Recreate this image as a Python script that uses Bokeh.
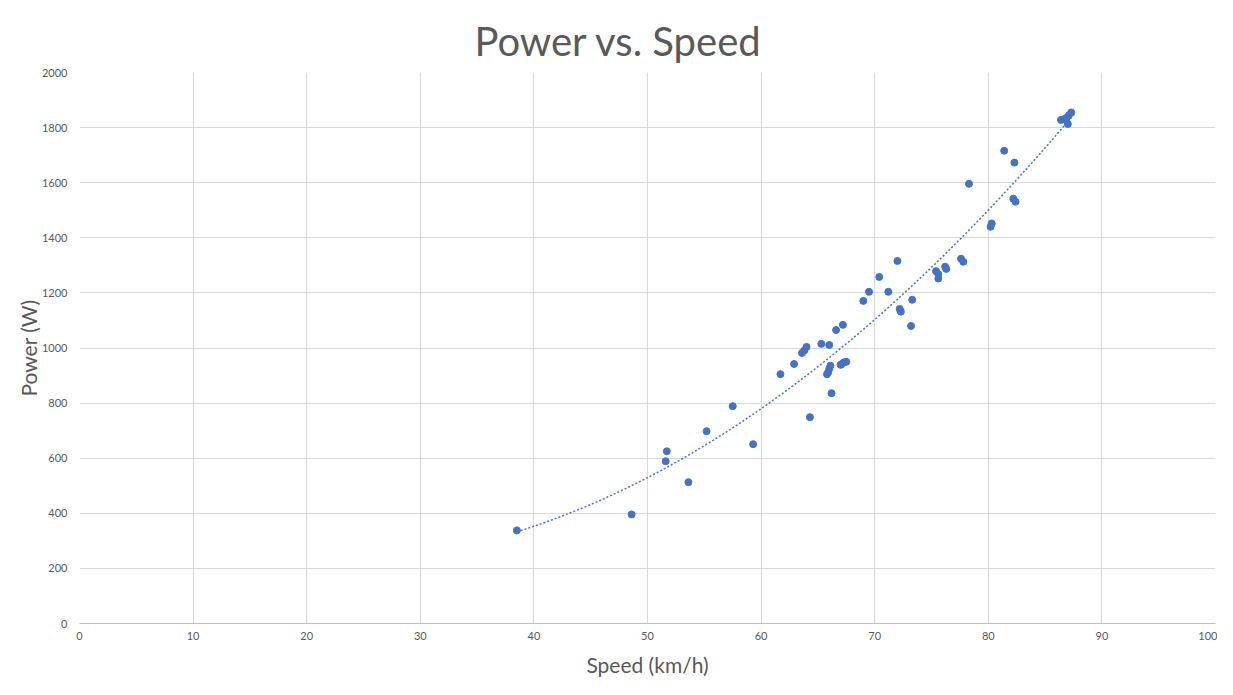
import numpy as np
from bokeh.plotting import figure
from bokeh.models import ColumnDataSource, FixedTicker
from bokeh.embed import file_html
from bokeh.resources import INLINE

# --- data ---
speed_kmh = [38.5, 48.6, 51.7, 51.6, 53.6, 55.2, 57.5, 59.3, 61.7, 62.9,
             63.6, 63.8, 64.0, 64.3, 65.3, 66.0, 66.2, 65.8, 65.9, 66.0,
             66.1, 66.6, 67.2, 67.0, 67.1, 67.3, 67.5, 69.0, 69.5, 70.4,
             71.2, 72.0, 72.2, 72.3, 73.3, 73.2, 75.4, 75.6, 75.6, 76.2,
             76.3, 77.6, 77.8, 78.3, 80.3, 80.2, 81.4, 82.3, 82.2, 82.4,
             86.4, 86.6, 86.9, 87.1, 87.3, 87.0]
power_w = [338, 396, 625, 589, 513, 698, 789, 651, 905, 942,
           982, 991, 1004, 749, 1015, 1011, 836, 905, 911, 924,
           936, 1065, 1084, 939, 942, 948, 950, 1171, 1204, 1258,
           1204, 1316, 1142, 1132, 1175, 1080, 1279, 1268, 1252, 1295,
           1287, 1324, 1313, 1596, 1452, 1440, 1716, 1673, 1542, 1531,
           1828, 1830, 1836, 1845, 1855, 1813]
x_ticks = [0, 10, 20, 30, 40, 50, 60, 70, 80, 90, 100]
y_ticks = [0, 200, 400, 600, 800, 1000, 1200, 1400, 1600, 1800, 2000]
title_text = "Power vs. Speed"

TEXT = "#595959"
BLUE = "#4472C4"
FONT = "Lato"

# 2nd-order polynomial trendline fitted to the data (least squares)
coef = np.polyfit(speed_kmh, power_w, 2)
trend_x = np.linspace(min(speed_kmh), max(speed_kmh), 200)
trend_y = np.polyval(coef, trend_x)

p = figure(width=1217, height=679, x_range=(0, 100), y_range=(0, 2000),
           output_backend="svg", toolbar_location=None,
           min_border_left=79, min_border_right=2,
           min_border_top=72, min_border_bottom=56)

p.title.text = title_text
p.title.align = "left"
p.title.offset = 395
p.title.vertical_align = "top"
p.title.text_font = FONT
p.title.text_font_size = "40px"
p.title.text_font_style = "normal"
p.title.text_color = TEXT
p.title.standoff = 12

p.outline_line_color = None
p.background_fill_color = "white"
p.border_fill_color = "white"

for g in (p.xgrid[0], p.ygrid[0]):
    g.grid_line_color = "#d9d9d9"
    g.grid_line_width = 1

p.xaxis.ticker = FixedTicker(ticks=x_ticks)
p.yaxis.ticker = FixedTicker(ticks=y_ticks)
for ax in (p.xaxis[0], p.yaxis[0]):
    ax.major_tick_line_color = None
    ax.minor_tick_line_color = None
    ax.major_label_text_font = FONT
    ax.major_label_text_font_size = "11px"
    ax.major_label_text_color = TEXT
    ax.axis_label_text_font = FONT
    ax.axis_label_text_font_size = "21px"
    ax.axis_label_text_font_style = "normal"
    ax.axis_label_text_color = TEXT

p.xaxis.axis_line_color = "#bfbfbf"
p.yaxis.axis_line_color = None
p.xaxis.axis_label = "Speed (km/h)"
p.yaxis.axis_label = "Power (W)"
p.xaxis.major_label_standoff = 2
p.yaxis.major_label_standoff = 6
p.xaxis.axis_label_standoff = 9
p.yaxis.axis_label_standoff = -2

p.line(trend_x, trend_y, line_color=BLUE, line_width=1.5, line_dash="2 2")

src = ColumnDataSource(dict(x=speed_kmh, y=power_w))
p.scatter("x", "y", source=src, size=7, fill_color=BLUE, line_color=BLUE)

open("out.html", "w").write(file_html(p, INLINE))
